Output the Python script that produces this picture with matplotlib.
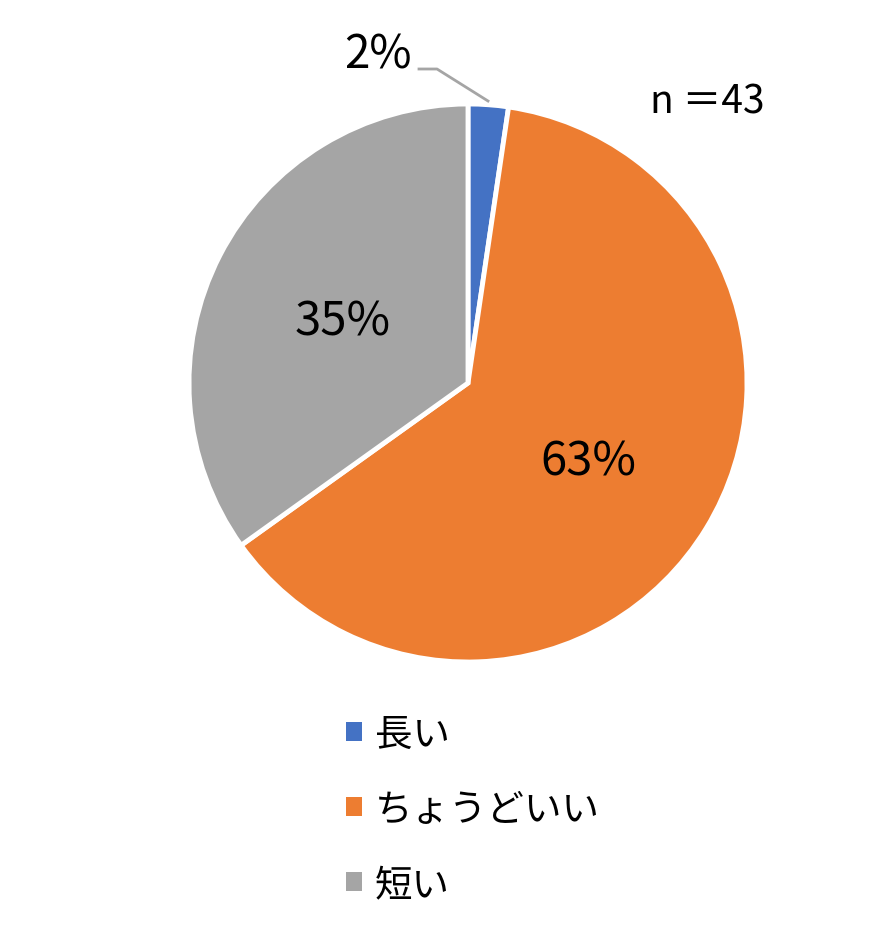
import matplotlib.pyplot as plt
from matplotlib.patches import Patch

plt.rcParams['font.family'] = ['Noto Sans CJK JP', 'DejaVu Sans']

# data (n = 43)
labels = ['長い', 'ちょうどいい', '短い']
counts = [1, 27, 15]
pct_labels = ['2%', '63%', '35%']
colors = ['#4472C4', '#ED7D31', '#A5A5A5']
n_total = 43

W, H = 880, 928
fig = plt.figure(figsize=(W / 100, H / 100), dpi=100)
ax = fig.add_axes([0, 0, 1, 1])
ax.set_xlim(0, W)
ax.set_ylim(0, H)
ax.set_aspect('equal')
ax.axis('off')

cx, cy, r = 468, H - 384, 279
wedges, _ = ax.pie(counts, colors=colors, startangle=90, counterclock=False,
                   center=(cx, cy), radius=r,
                   wedgeprops=dict(edgecolor='white', linewidth=3.5))
ax.set_xlim(0, W)
ax.set_ylim(0, H)

# percent labels
ax.text(343, H - 322, pct_labels[2], fontsize=34, ha='center', va='center')
ax.text(588, H - 462, pct_labels[1], fontsize=34, ha='center', va='center')
ax.text(378, H - 55, pct_labels[0], fontsize=33, ha='center', va='center')
ax.plot([419, 437, 488], [H - 70, H - 70, H - 102], color='#A5A5A5', lw=2)

ax.text(707, H - 103, 'n ＝' + str(n_total), fontsize=28, ha='center', va='center')

# legend
handles = [Patch(facecolor=c, edgecolor='none') for c in colors]
ax.legend(handles, labels, loc='upper left', bbox_to_anchor=(346 / W, 1 - 716 / H),
          frameon=False, fontsize=27, handlelength=0.43, handleheight=0.43,
          handletextpad=0.35, labelspacing=0.96, borderpad=0, borderaxespad=0)

fig.savefig('out.png', dpi=100)
